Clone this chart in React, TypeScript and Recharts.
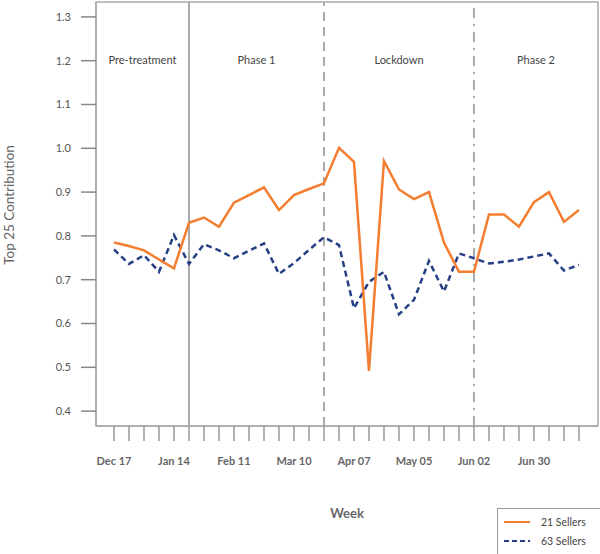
import React from 'react';
import {
  LineChart, Line, XAxis, YAxis, ReferenceLine, ReferenceArea,
} from 'recharts';

// weekly dates, Dec 17 .. Jul 21
const weeks = [
  'Dec 17', 'Dec 24', 'Dec 31', 'Jan 07', 'Jan 14', 'Jan 21', 'Jan 28', 'Feb 04',
  'Feb 11', 'Feb 18', 'Feb 25', 'Mar 03', 'Mar 10', 'Mar 17', 'Mar 24', 'Mar 31',
  'Apr 07', 'Apr 14', 'Apr 21', 'Apr 28', 'May 05', 'May 12', 'May 19', 'May 26',
  'Jun 02', 'Jun 09', 'Jun 16', 'Jun 23', 'Jun 30', 'Jul 07', 'Jul 14', 'Jul 21',
];

const sellers21 = [
  0.785, 0.777, 0.767, 0.746, 0.726, 0.830, 0.842, 0.821,
  0.876, 0.893, 0.911, 0.859, 0.893, 0.907, 0.920, 1.001,
  0.969, 0.492, 0.971, 0.906, 0.884, 0.900, 0.785, 0.718,
  0.718, 0.849, 0.849, 0.821, 0.877, 0.900, 0.832, 0.859,
];

const sellers63 = [
  0.769, 0.736, 0.756, 0.718, 0.802, 0.736, 0.781, 0.767,
  0.749, 0.766, 0.783, 0.713, 0.738, 0.768, 0.797, 0.779,
  0.635, 0.695, 0.718, 0.621, 0.654, 0.743, 0.673, 0.760,
  0.749, 0.737, 0.741, 0.746, 0.753, 0.760, 0.721, 0.734,
];

const yTicks = [0.4, 0.5, 0.6, 0.7, 0.8, 0.9, 1.0, 1.1, 1.2, 1.3];

// phase boundaries (week index) and names
const phases = [
  { name: 'Pre-treatment', from: -1.2, to: 5 },
  { name: 'Phase 1', from: 5, to: 14 },
  { name: 'Lockdown', from: 14, to: 24 },
  { name: 'Phase 2', from: 24, to: 32.27 },
];

const X_MIN = -1.2;
const X_MAX = 32.27;
const Y_MIN = 0.366;
const Y_MAX = 1.334;

const ORANGE = '#f47d30';
const NAVY = '#263f85';
const GRID = '#aaaaaa';
const FONT = 'Lato, "Open Sans", sans-serif';

const data = weeks.map((w, i) => ({ idx: i, week: w, s21: sellers21[i], s63: sellers63[i] }));

const YLabel = (props: any) => {
  const vb = props.viewBox;
  const x = vb.x + 9;
  const y = vb.y + vb.height / 2 - 9;
  return (
    <text x={x} y={y} transform={`rotate(-90 ${x} ${y})`} textAnchor="middle"
      dominantBaseline="central" fill="#666" fontSize={13.5} fontFamily={FONT}>
      Top 25 Contribution
    </text>
  );
};

export default function App() {
  return (
    <div style={{ position: 'absolute', left: 0, top: 0, width: 600, height: 554 }}>
      <LineChart width={600} height={554} data={data}
        margin={{ top: 2, right: 2, left: 0, bottom: 0 }}>
        <ReferenceArea x1={X_MIN} x2={X_MAX} y1={Y_MIN} y2={Y_MAX}
          fill="none" stroke={GRID} strokeWidth={1.5} ifOverflow="visible" />
        {phases.map((p) => (
          <ReferenceArea key={p.name} x1={p.from} x2={p.to} y1={Y_MIN} y2={Y_MAX}
            fill="none" stroke="none" ifOverflow="visible"
            label={{ value: p.name, position: 'insideTop', offset: 54, fill: '#444', fontSize: 11, fontFamily: FONT }} />
        ))}
        <XAxis dataKey="idx" type="number" domain={[X_MIN, X_MAX]} allowDataOverflow
          ticks={weeks.map((_, i) => i)} interval={0}
          tickFormatter={(v: number) => (v % 4 === 0 ? weeks[v] : '')}
          height={128} tickSize={15} tickMargin={16}
          axisLine={{ stroke: GRID, strokeWidth: 1.5 }} tickLine={{ stroke: '#999', strokeWidth: 1.5 }}
          tick={{ fill: '#666', fontSize: 11, fontWeight: 700, fontFamily: FONT }}
          label={{ value: 'Week', position: 'insideBottom', offset: 36, fill: '#666', fontSize: 13, fontWeight: 700, fontFamily: FONT }} />
        <YAxis type="number" domain={[Y_MIN, Y_MAX]} allowDataOverflow ticks={yTicks}
          tickFormatter={(v: number) => v.toFixed(1)} width={96} tickSize={15} tickMargin={10}
          axisLine={{ stroke: GRID, strokeWidth: 1.5 }} tickLine={{ stroke: '#888', strokeWidth: 1.5 }}
          tick={{ fill: '#555', fontSize: 11, fontFamily: FONT }}
          label={{ content: YLabel }} />
        <ReferenceLine x={5} stroke={GRID} strokeWidth={2} ifOverflow="visible" />
        <ReferenceLine x={14} stroke={GRID} strokeWidth={2} strokeDasharray="9 6" ifOverflow="visible" />
        <ReferenceLine x={24} stroke={GRID} strokeWidth={2} strokeDasharray="10 6 2 6" ifOverflow="visible" />
        <Line type="linear" dataKey="s63" stroke={NAVY} strokeWidth={2.5} strokeDasharray="6 4"
          dot={false} isAnimationActive={false} />
        <Line type="linear" dataKey="s21" stroke={ORANGE} strokeWidth={2.5}
          dot={false} isAnimationActive={false} />
      </LineChart>
      <div style={{
        position: 'absolute', left: 497, top: 508, width: 110, height: 50,
        border: '1px solid #999', background: '#fff', fontFamily: FONT, fontSize: 10.5, color: '#444',
        boxSizing: 'border-box',
      }}>
        {[
          { name: '21 Sellers', color: ORANGE, dash: undefined },
          { name: '63 Sellers', color: NAVY, dash: '5 3' },
        ].map((s, i) => (
          <div key={s.name} style={{ position: 'absolute', left: 5, top: 7 + i * 19, display: 'flex', alignItems: 'center' }}>
            <svg width={28} height={10}>
              <line x1={1} y1={5} x2={27} y2={5} stroke={s.color} strokeWidth={2} strokeDasharray={s.dash} />
            </svg>
            <span style={{ marginLeft: 10 }}>{s.name}</span>
          </div>
        ))}
      </div>
    </div>
  );
}
